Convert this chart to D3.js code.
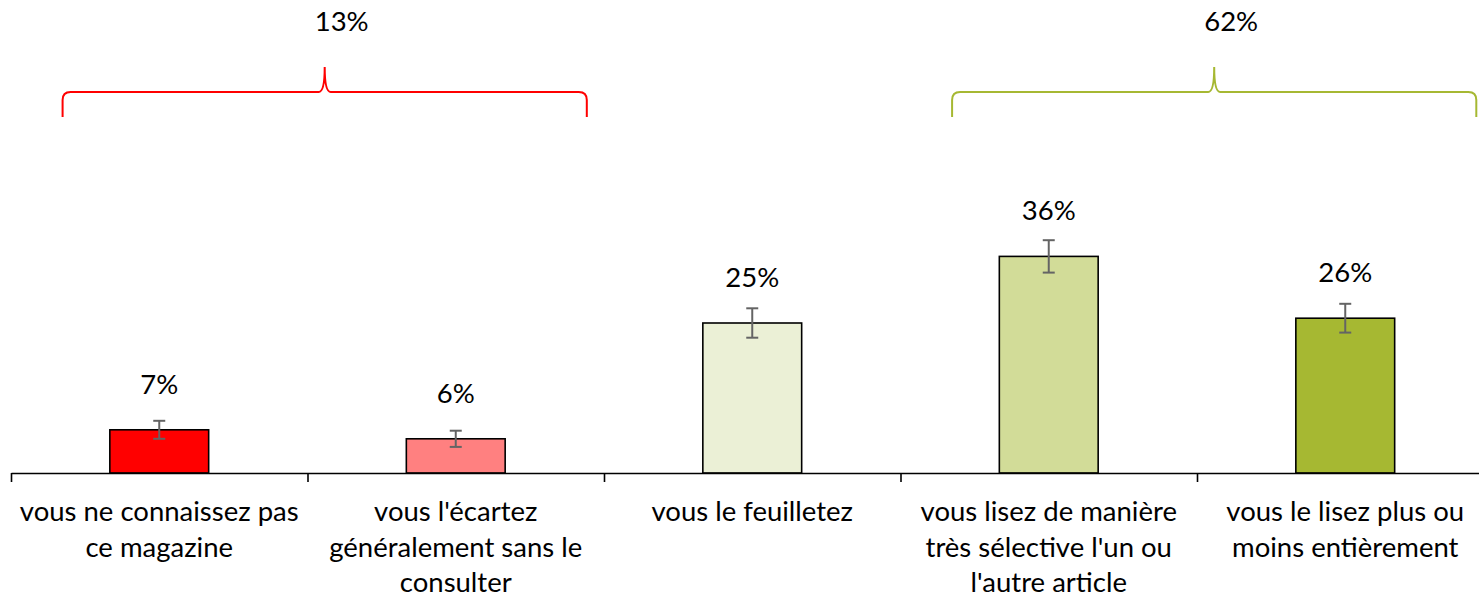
<!DOCTYPE html>
<html>
<head>
<meta charset="utf-8">
<script src="https://cdn.jsdelivr.net/npm/d3@7"></script>
<style>
    body { margin: 0; background: #fff; overflow: hidden; }
    text { font-family: Lato, "Noto Sans", sans-serif; fill: #000; }
</style>
</head>
<body>
<script>
// categories, written as the wrapped lines shown under the axis
const categories = [
    ["vous ne connaissez pas", "ce magazine"],
    ["vous l'écartez", "généralement sans le", "consulter"],
    ["vous le feuilletez"],
    ["vous lisez de manière", "très sélective l'un ou", "l'autre article"],
    ["vous le lisez plus ou", "moins entièrement"]
];
const values = [7.2, 5.7, 25.0, 36.1, 25.8];
const errors = [1.5, 1.35, 2.45, 2.7, 2.4];
const colors = ["#ff0000", "#ff8080", "#ebf0d6", "#d2dc98", "#a6b832"];

// groups shown with braces on top
const groups = [
    { from: 0, to: 1, label: "13%", color: "#ff0000" },
    { from: 3, to: 4, label: "62%", color: "#a6b832" }
];

const width = 1479, height = 598;
const step = 296.5;
const left = 11;
const baseline = 473;
const fontSize = 27.5;

const svg = d3.select('body').append('svg')
    .attr("width", width)
    .attr("height", height);

const idx = d3.range(categories.length);
const x = d3.scaleBand()
    .domain(idx)
    .range([left, left + step * categories.length])
    .padding(0);
const bw = x.bandwidth();
const edges = d3.scaleLinear()
    .domain([0, categories.length])
    .range([left, left + step * categories.length]);
const y = d3.scaleLinear()
    .domain([0, 40])
    .range([baseline, baseline - 240]);

// bars
svg.append("g").selectAll("rect")
    .data(values)
    .join("rect")
    .attr("x", (d, i) => x(i) + bw / 3)
    .attr("width", bw / 3)
    .attr("y", d => y(d))
    .attr("height", d => y(0) - y(d))
    .attr("fill", (d, i) => colors[i])
    .attr("stroke", "#000")
    .attr("stroke-width", 1.6);

// error bars
const eb = svg.append("g").attr("stroke", "#646464").attr("stroke-width", 2);
values.forEach((v, i) => {
    const cx = x(i) + bw / 2;
    const lo = y(v - errors[i]), hi = y(v + errors[i]);
    eb.append("line").attr("x1", cx).attr("x2", cx).attr("y1", lo).attr("y2", hi);
    eb.append("line").attr("x1", cx - 6).attr("x2", cx + 6).attr("y1", lo).attr("y2", lo);
    eb.append("line").attr("x1", cx - 6).attr("x2", cx + 6).attr("y1", hi).attr("y2", hi);
});

// value labels
svg.append("g").selectAll("text")
    .data(values)
    .join("text")
    .attr("x", (d, i) => x(i) + bw / 2)
    .attr("y", d => y(d) - 36)
    .attr("text-anchor", "middle")
    .attr("font-size", fontSize)
    .text(d => d3.format(".0f")(d) + "%");

// axis with ticks at category boundaries
const axis = svg.append("g")
    .attr("transform", `translate(0,${baseline})`)
    .call(d3.axisBottom(edges)
        .ticks(categories.length)
        .tickFormat("")
        .tickSizeOuter(0)
        .tickSizeInner(9));
axis.select(".domain").attr("stroke", "#000").attr("stroke-width", 1.6);
axis.selectAll(".tick line").attr("stroke", "#000").attr("stroke-width", 1.6);

// category labels
const cat = svg.append("g").selectAll("text")
    .data(categories)
    .join("text")
    .attr("text-anchor", "middle")
    .attr("font-size", fontSize)
    .attr("y", 521);
cat.each(function (lines, i) {
    d3.select(this).selectAll("tspan")
        .data(lines)
        .join("tspan")
        .attr("x", x(i) + bw / 2)
        .attr("dy", (d, j) => j === 0 ? 0 : 35.5)
        .text(d => d);
});

// braces
const braceY = 92, braceEnd = 117, braceTip = 67, r = 8;
groups.forEach(g => {
    const x0 = x(g.from) + 0.174 * step;
    const x1 = x(g.to) + bw - 0.058 * step;
    const xm = (x0 + x1) / 2;
    const path = d3.path();
    path.moveTo(x0, braceEnd);
    path.lineTo(x0, braceY + r);
    path.quadraticCurveTo(x0, braceY, x0 + r, braceY);
    path.lineTo(xm - 6, braceY);
    path.quadraticCurveTo(xm, braceY, xm, braceTip);
    path.quadraticCurveTo(xm, braceY, xm + 6, braceY);
    path.lineTo(x1 - r, braceY);
    path.quadraticCurveTo(x1, braceY, x1, braceY + r);
    path.lineTo(x1, braceEnd);
    svg.append("path")
        .attr("d", path.toString())
        .attr("fill", "none")
        .attr("stroke", g.color)
        .attr("stroke-width", 2);
    svg.append("text")
        .attr("x", xm + 17)
        .attr("y", 31)
        .attr("text-anchor", "middle")
        .attr("font-size", fontSize)
        .text(g.label);
});
</script>
</body>
</html>
